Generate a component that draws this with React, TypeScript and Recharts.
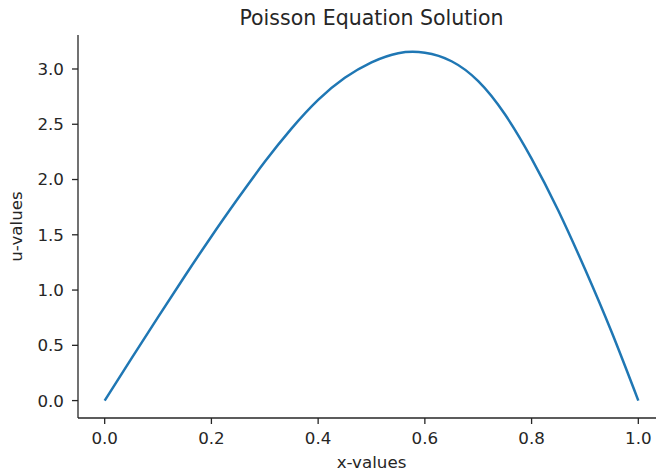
import { LineChart, Line, XAxis, YAxis } from 'recharts';

const xValues = [0, 0.05, 0.1, 0.15, 0.2, 0.25, 0.3, 0.35, 0.4, 0.45, 0.5, 0.55, 0.6, 0.65, 0.7, 0.75, 0.8, 0.85, 0.9, 0.95, 1.0];
const uValues = [0, 0.38, 0.755, 1.125, 1.485, 1.83, 2.16, 2.46, 2.72, 2.92, 3.06, 3.143, 3.147, 3.07, 2.89, 2.59, 2.19, 1.72, 1.19, 0.62, 0];

const xTicks = [0, 0.2, 0.4, 0.6, 0.8, 1.0];
const yTicks = [0, 0.5, 1.0, 1.5, 2.0, 2.5, 3.0];
const xLimits = [-0.05, 1.05];
const yLimits = [-0.1575, 3.3075];

const data = xValues.map((x, i) => ({ x, u: uValues[i] }));

const font = 'DejaVu Sans, sans-serif';
const ink = '#262626';
const tickStyle = { fontSize: 16.7, fill: ink, fontFamily: font };

export default function App() {
  return (
    <div style={{ position: 'absolute', left: 0, top: 0, width: 656, height: 472, overflow: 'hidden', background: '#fff' }}>
      <div
        style={{
          position: 'absolute', left: 78, top: 8, width: 587, textAlign: 'center',
          fontFamily: font, fontSize: 20.5, lineHeight: 1, color: ink,
        }}
      >
        Poisson Equation Solution
      </div>
      <LineChart width={680} height={472} data={data} margin={{ top: 35, right: 15, left: 0, bottom: 0 }}>
        <XAxis
          dataKey="x"
          type="number"
          domain={xLimits}
          ticks={xTicks}
          allowDataOverflow
          tickFormatter={(v) => v.toFixed(1)}
          height={54}
          tick={tickStyle}
          tickSize={6}
          tickMargin={8}
          stroke={ink}
          axisLine={{ stroke: ink, strokeWidth: 1.3 }}
          tickLine={{ stroke: ink, strokeWidth: 1.3 }}
          label={{ value: 'x-values', position: 'insideBottom', offset: 4, style: { ...tickStyle, textAnchor: 'middle' } }}
        />
        <XAxis
          xAxisId="top"
          orientation="top"
          dataKey="x"
          type="number"
          domain={xLimits}
          height={0}
          tick={false}
          tickLine={false}
          axisLine={{ stroke: ink, strokeWidth: 1.3 }}
        />
        <YAxis
          type="number"
          domain={yLimits}
          ticks={yTicks}
          allowDataOverflow
          tickFormatter={(v) => v.toFixed(1)}
          width={78}
          tick={tickStyle}
          tickSize={6}
          tickMargin={8}
          axisLine={{ stroke: ink, strokeWidth: 1.3 }}
          tickLine={{ stroke: ink, strokeWidth: 1.3 }}
          label={{ value: 'u-values', angle: -90, position: 'insideLeft', offset: 16, style: { ...tickStyle, textAnchor: 'middle' } }}
        />
        <Line
          type="natural"
          dataKey="u"
          stroke="#1f77b4"
          strokeWidth={2.5}
          dot={false}
          isAnimationActive={false}
        />
      </LineChart>
    </div>
  );
}
